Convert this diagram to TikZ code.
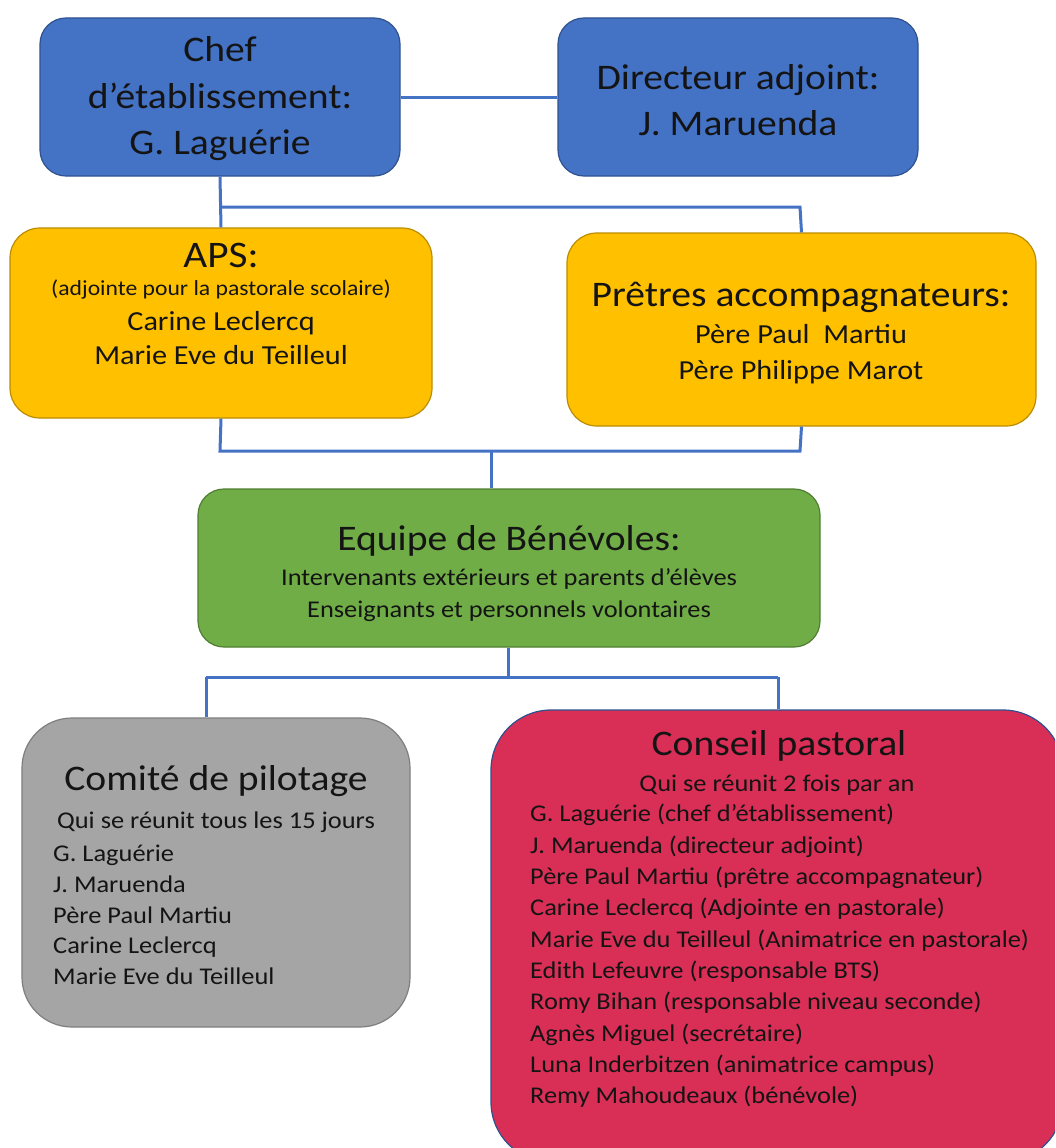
\documentclass[tikz,border=0pt]{standalone}
\usepackage{fontspec}
\setmainfont{Carlito}[FakeStretch=1.1]
\definecolor{cblue}{HTML}{4472C4}
\definecolor{cblueD}{HTML}{2F528F}
\definecolor{cyel}{HTML}{FFC000}
\definecolor{cyelD}{HTML}{BC8C00}
\definecolor{cgreen}{HTML}{70AD47}
\definecolor{cgreenD}{HTML}{507E32}
\definecolor{cgray}{HTML}{A5A5A5}
\definecolor{cgrayD}{HTML}{7F7F7F}
\definecolor{cred}{HTML}{D92E55}
\definecolor{ctext}{HTML}{141414}
\begin{document}
\begin{tikzpicture}[x=1pt,y=-1pt,
  box/.style={draw, line width=1.2pt, rounded corners=#1, inner sep=0pt},
  box/.default=26pt,
  link/.style={draw=cblue, line width=3pt},
  txt/.style={inner sep=0pt, text=ctext, align=center},
  ltxt/.style={inner sep=0pt, text=ctext, align=left, anchor=west},
  big/.style={font=\fontsize{36}{46.5}\selectfont},
  mid/.style={font=\fontsize{27.5}{36}\selectfont},
  small/.style={font=\fontsize{24}{31}\selectfont},
]
\useasboundingbox (0,0) rectangle (1055,1148);
\clip (0,0) rectangle (1055,1148);
\fill[white] (0,0) rectangle (1055,1148);

% boxes
\node[box, fill=cblue, draw=cblueD, minimum width=360pt, minimum height=158pt] (chef) at (220,97) {};
\node[box, fill=cblue, draw=cblueD, minimum width=360pt, minimum height=158pt] (dir) at (738,97) {};
\node[box=30pt, fill=cyel, draw=cyelD, minimum width=422pt, minimum height=190pt] (aps) at (221,323) {};
\node[box=30pt, fill=cyel, draw=cyelD, minimum width=469pt, minimum height=193pt] (pre) at (801.5,329.5) {};
\node[box, fill=cgreen, draw=cgreenD, minimum width=622pt, minimum height=158pt] (eq) at (509,568) {};
\node[box=50pt, fill=cgray, draw=cgrayD, minimum width=388pt, minimum height=309pt] (com) at (216,872.5) {};
\node[box=60pt, fill=cred, draw=cblueD, minimum width=572pt, minimum height=452pt] (con) at (777,936) {};

% connectors
\coordinate (j1) at (220,207);
\coordinate (j2) at (800,207);
\coordinate (j3) at (220,451);
\coordinate (j4) at (800,451);
\coordinate (j5) at (491,451);
\coordinate (j6) at (508,677);
\coordinate (j7) at (206,677);
\coordinate (j8) at (778,677);
\draw[link] (chef.east) -- (dir.west);
\draw[link] (chef.south) -- (aps.north);
\draw[link] (j1) -- (j2) -- (pre.north);
\draw[link] (aps.south) -- (j3) -- (j4) -- (pre.south);
\draw[link] (j5) -- (eq.north -| j5);
\draw[link] (eq.south -| j6) -- (j6);
\draw[link] (j7) -- (j8);
\draw[link] (j7) -- (com.north -| j7);
\draw[link] (j8) -- (con.north -| j8);

% texts
\node[txt, big] (tchef) at (220,99) {Chef\\d’établissement:\\G. Laguérie};
\node[txt, big] (tdir) at (738,100) {Directeur adjoint:\\J. Maruenda};
\node[txt, font=\fontsize{37.5}{40}\selectfont] (taps1) at (221,255) {APS:};
\node[txt, font=\fontsize{21.5}{24}\selectfont] (taps2) at (221,289) {(adjointe pour la pastorale scolaire)};
\node[txt, font=\fontsize{27.5}{34}\selectfont] (taps3) at (221,338) {Carine Leclercq\\Marie Eve du Teilleul};
\node[txt, big] (tpre1) at (801,297) {Prêtres accompagnateurs:};
\node[txt, mid] (tpre2) at (801,354) {Père Paul\ \ Martiu\\Père Philippe Marot};
\node[txt, big] (teq1) at (509,541) {Equipe de Bénévoles:};
\node[txt, font=\fontsize{24}{32}\selectfont] (teq2) at (509,595) {Intervenants extérieurs et parents d’élèves\\Enseignants et personnels volontaires};
\node[txt, big] (tcom1) at (216,781) {Comité de pilotage};
\node[txt, small] (tcom2) at (216,822) {Qui se réunit tous les 15 jours};
\node[ltxt, font=\fontsize{24}{30.75}\selectfont] (tcom3) at (53,915) {G. Laguérie\\J. Maruenda\\Père Paul Martiu\\Carine Leclercq\\Marie Eve du Teilleul};
\node[txt, big] (tcon1) at (779,746) {Conseil pastoral};
\node[txt, small] (tcon2) at (777,785) {Qui se réunit 2 fois par an};
\node[ltxt, font=\fontsize{24}{31.33}\selectfont] (tcon3) at (530,956) {G. Laguérie (chef d’établissement)\\J. Maruenda (directeur adjoint)\\Père Paul Martiu (prêtre accompagnateur)\\Carine Leclercq (Adjointe en pastorale)\\Marie Eve du Teilleul (Animatrice en pastorale)\\Edith Lefeuvre (responsable BTS)\\Romy Bihan (responsable niveau seconde)\\Agnès Miguel (secrétaire)\\Luna Inderbitzen (animatrice campus)\\Remy Mahoudeaux (bénévole)};
\end{tikzpicture}
\end{document}
